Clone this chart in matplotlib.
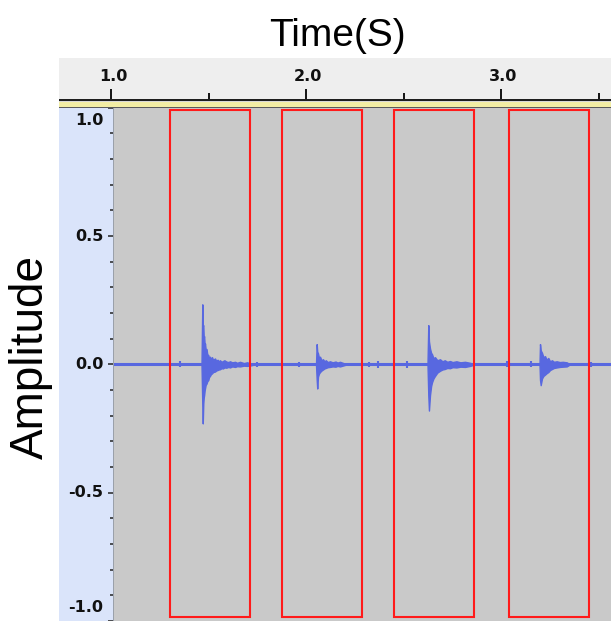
import matplotlib
matplotlib.use("Agg")
import matplotlib.pyplot as plt
from matplotlib.patches import Rectangle
import matplotlib.transforms as mtransforms

# ---------------- data ----------------
x_major = [1.0, 2.0, 3.0]
x_major_labels = ["1.0", "2.0", "3.0"]
x_minor = [1.5, 2.5, 3.5]
y_major = [-1.0, -0.5, 0.0, 0.5, 1.0]
y_major_labels = ["-1.0", "-0.5", "0.0", "0.5", "1.0"]
y_minor = [-0.9, -0.8, -0.7, -0.6, -0.4, -0.3, -0.2, -0.1,
           0.1, 0.2, 0.3, 0.4, 0.6, 0.7, 0.8, 0.9]

# signal baseline (silence) extent
base_t = [1.0, 3.6]
base_a = [0.0, 0.0]

# envelope of the four clicks (time, upper, lower)
spike1_t = [1.4626, 1.4667, 1.4690, 1.4718, 1.4740, 1.4760, 1.4790, 1.4805, 1.4840, 1.4882,
            1.4920, 1.4974, 1.5010, 1.5060, 1.5110, 1.5164, 1.5220, 1.5318, 1.5380, 1.5450,
            1.5510, 1.5574, 1.5650, 1.5728, 1.5800, 1.5900, 1.6000, 1.6087, 1.6200, 1.6350,
            1.6450, 1.6600, 1.6800, 1.6959, 1.7150, 1.7369]
spike1_hi = [0.0, 0.234, 0.150, 0.153, 0.105, 0.110, 0.075, 0.082, 0.058, 0.060,
             0.040, 0.036, 0.025, 0.030, 0.020, 0.028, 0.018, 0.023, 0.014, 0.018,
             0.012, 0.016, 0.010, 0.013, 0.016, 0.011, 0.009, 0.012, 0.008, 0.010,
             0.006, 0.010, 0.005, 0.008, 0.004, 0.0]
spike1_lo = [0.0, -0.160, -0.230, -0.152, -0.130, -0.120, -0.100, -0.094, -0.080, -0.075,
             -0.066, -0.061, -0.050, -0.045, -0.038, -0.035, -0.030, -0.028, -0.024, -0.022,
             -0.020, -0.019, -0.015, -0.016, -0.012, -0.013, -0.010, -0.012, -0.008, -0.010,
             -0.007, -0.008, -0.005, -0.006, -0.004, 0.0]

spike2_t = [2.0497, 2.0533, 2.0560, 2.0600, 2.0650, 2.0703, 2.0780, 2.0856, 2.0930, 2.1000,
            2.1100, 2.1215, 2.1350, 2.1500, 2.1600, 2.1728, 2.2087]
spike2_hi = [0.0, 0.079, 0.050, 0.043, 0.026, 0.030, 0.016, 0.020, 0.012, 0.016,
             0.009, 0.012, 0.008, 0.011, 0.007, 0.010, 0.0]
spike2_lo = [0.0, -0.060, -0.094, -0.048, -0.036, -0.030, -0.024, -0.020, -0.016, -0.014,
             -0.011, -0.010, -0.008, -0.009, -0.006, -0.008, 0.0]

spike3_t = [2.6215, 2.6256, 2.6290, 2.6344, 2.6400, 2.6446, 2.6520, 2.6600, 2.6720, 2.6856,
            2.6980, 2.7100, 2.7230, 2.7369, 2.7500, 2.7700, 2.7900, 2.8138, 2.8400, 2.8651]
spike3_hi = [0.0, 0.153, 0.090, 0.062, 0.045, 0.040, 0.024, 0.028, 0.016, 0.020,
             0.012, 0.016, 0.010, 0.013, 0.009, 0.012, 0.008, 0.010, 0.006, 0.0]
spike3_lo = [0.0, -0.120, -0.180, -0.120, -0.085, -0.070, -0.055, -0.045, -0.032, -0.025,
             -0.020, -0.018, -0.014, -0.015, -0.011, -0.012, -0.009, -0.010, -0.006, 0.0]

spike4_t = [3.1959, 3.1985, 3.2020, 3.2087, 3.2160, 3.2241, 3.2330, 3.2410, 3.2500, 3.2600,
            3.2700, 3.2841, 3.3000, 3.3150, 3.3354, 3.3523]
spike4_hi = [0.0, 0.079, 0.055, 0.045, 0.028, 0.032, 0.018, 0.025, 0.012, 0.016,
             0.010, 0.012, 0.009, 0.010, 0.008, 0.0]
spike4_lo = [0.0, -0.060, -0.081, -0.055, -0.045, -0.040, -0.034, -0.030, -0.022, -0.018,
             -0.014, -0.012, -0.010, -0.009, -0.008, 0.0]

# small isolated blips on the baseline
blip_t = [1.352, 1.746, 1.960, 2.320, 2.370, 2.515, 3.030, 3.152, 3.458]
blip_a = [0.012, 0.010, 0.010, 0.010, 0.014, 0.014, 0.012, 0.012, 0.010]

# red selection boxes
box_start = [1.301, 1.873, 2.450, 3.039]
box_end = [1.711, 2.284, 2.860, 3.450]
box_top = 0.991
box_bottom = -0.984

# ---------------- layout helpers ----------------
W, H = 611, 621
fig = plt.figure(figsize=(W / 100, H / 100), dpi=100)
fig.patch.set_facecolor("white")


def fx(x):
    return x / W


def fy(y):
    return 1 - y / H


PX_PER_SEC = 195.0
T_AT_X = lambda x: 1.0 + (x - 111.3) / PX_PER_SEC

wave_col = "#5868e0"
gray_bg = "#c9c9c9"
panel_blue = "#dae4fa"

# ---- band lines between ruler and track ----
def band(y0, y1, color, x0=59, x1=W):
    fig.add_artist(Rectangle((fx(x0), fy(y1)), fx(x1) - fx(x0), fy(y0) - fy(y1),
                             transform=fig.transFigure, facecolor=color,
                             edgecolor="none", zorder=5))

band(99, 101, "#1e1e1e")
band(101, 102, "#d8d8d8")
band(102, 106.5, "#f2eda4")
band(106.5, 108, "#5a5a5a")

# left blue panel
fig.add_artist(Rectangle((fx(59), 0), fx(113.5) - fx(59), fy(108),
                         transform=fig.transFigure, facecolor=panel_blue,
                         edgecolor="none", zorder=0))
fig.add_artist(Rectangle((fx(112.5), 0), fx(1.0), fy(108),
                         transform=fig.transFigure, facecolor="#9aa0aa",
                         edgecolor="none", zorder=6))

# ---------------- top ruler ----------------
rx0, rx1, ry0, ry1 = 59, W, 58, 99
rax = fig.add_axes([fx(rx0), fy(ry1), fx(rx1) - fx(rx0), fy(ry0) - fy(ry1)])
rax.set_facecolor("#eeeeee")
rax.set_xlim(T_AT_X(rx0), T_AT_X(rx1))
rax.set_ylim(0, 1)
for s in rax.spines.values():
    s.set_visible(False)
rax.set_yticks([])
rax.set_xticks(x_major)
rax.set_xticks(x_minor, minor=True)
rax.tick_params(axis="x", which="major", direction="in", length=7.5, width=1.3,
                color="black", labelbottom=False)
rax.tick_params(axis="x", which="minor", direction="in", length=4, width=1.3,
                color="black")
for t, lab in zip(x_major, x_major_labels):
    rax.text(t + 2 / PX_PER_SEC, 0.54, lab, ha="center", va="center",
             fontsize=11.5, fontweight="bold", family="DejaVu Sans", color="#111111")

# ---------------- main track ----------------
ax = fig.add_axes([fx(113.5), 0, fx(W) - fx(113.5), fy(107.75)])
ax.set_facecolor(gray_bg)
ax.set_xlim(T_AT_X(113.5), T_AT_X(W))
ax.set_ylim(-1.0, 1.0)
for s in ax.spines.values():
    s.set_visible(False)
ax.set_xticks([])
ax.set_yticks(y_major)
ax.set_yticks(y_minor, minor=True)
ax.set_yticklabels([])
ax.tick_params(axis="y", which="major", direction="out", length=4.5, width=1.2,
               color="#333333")
ax.tick_params(axis="y", which="minor", direction="out", length=3, width=1.2,
               color="#333333")

trans = mtransforms.blended_transform_factory(ax.transAxes, ax.transData)
for v, lab in zip(y_major, y_major_labels):
    dy = 0
    if v >= 1.0:
        dy = -13
    elif v <= -1.0:
        dy = 13
    tr = mtransforms.offset_copy(trans, fig=fig, x=-10, y=dy, units="dots")
    ax.text(0, v, lab, transform=tr, ha="right", va="center",
            fontsize=11.5, fontweight="bold", family="DejaVu Sans", color="#111111")

# baseline
ax.plot(base_t, base_a, color=wave_col, lw=2.2, solid_capstyle="butt", zorder=3)

for tt, hi, lo in [(spike1_t, spike1_hi, spike1_lo), (spike2_t, spike2_hi, spike2_lo),
                   (spike3_t, spike3_hi, spike3_lo), (spike4_t, spike4_hi, spike4_lo)]:
    ax.fill_between(tt, lo, hi, color=wave_col, lw=1.0, edgecolor=wave_col, zorder=3)

ax.vlines(blip_t, [-a for a in blip_a], blip_a, color=wave_col, lw=1.5, zorder=3)

for t0, t1 in zip(box_start, box_end):
    ax.add_patch(Rectangle((t0, box_bottom), t1 - t0, box_top - box_bottom,
                           facecolor="none", edgecolor="#ff1a1a", lw=1.5, zorder=4))

# ---------------- titles ----------------
fig.text(fx(337), fy(46.5), "Time(S)", ha="center", va="baseline",
         fontsize=28, family="Liberation Sans", color="black")
fig.text(fx(31), fy(357), "Amplitude", ha="center", va="center", rotation=90,
         fontsize=33, family="Liberation Sans", color="black")

fig.savefig("out.png", dpi=100, facecolor="white")
